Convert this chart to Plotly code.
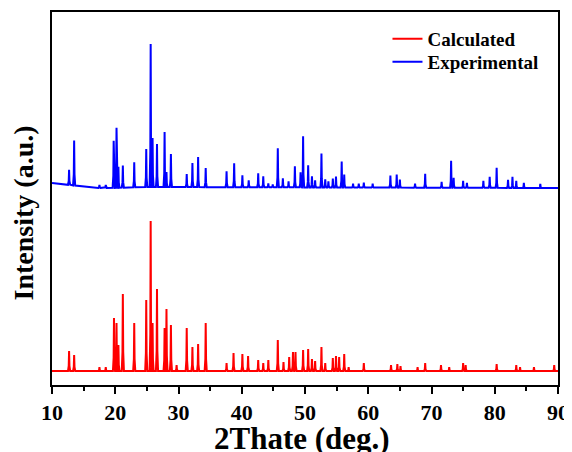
import plotly.graph_objects as go

# ---- data ----
calc_pos = [12.7, 13.5, 17.5, 18.5, 19.8, 20.2, 20.5, 21.2, 23.0, 24.9, 25.6, 25.9, 26.6,
            27.8, 28.1, 28.8, 29.7, 31.3, 32.2, 33.1, 34.3, 37.6, 38.7, 40.1, 41.0, 42.6,
            43.4, 44.2, 45.7, 46.6, 47.5, 48.1, 48.5, 49.7, 50.5, 51.1, 51.6, 52.6, 53.2,
            54.4, 54.9, 55.4, 56.2, 56.9, 59.3, 63.6, 64.6, 65.1, 67.8, 69.0, 71.5, 72.8,
            75.0, 75.4, 80.3, 83.4, 84.0, 86.2, 89.4]
calc_int = [20, 16, 4, 4, 53, 48, 26, 77, 48, 71, 150, 48, 82,
            43, 62, 46, 6, 43, 24, 27, 48, 8, 18, 17, 15, 11,
            8, 11, 31, 9, 14, 19, 19, 21, 22, 12, 10, 24, 8,
            13, 15, 14, 17, 4, 8, 6, 7, 5, 4, 8, 6, 4,
            8, 6, 7, 6, 4, 4, 6]

exp_pos = [12.7, 13.5, 17.5, 18.5, 19.75, 20.2, 20.5, 21.2, 23.0, 24.9, 25.6, 25.9, 26.6,
           27.8, 28.1, 28.8, 31.3, 32.2, 33.1, 34.3, 37.6, 38.8, 40.1, 41.1, 42.6, 43.4,
           44.2, 44.9, 45.7, 46.5, 47.4, 48.4, 49.3, 49.7, 50.5, 51.1, 51.6, 52.6, 53.2,
           53.7, 54.4, 54.9, 55.8, 56.2, 57.6, 58.5, 59.3, 60.7, 63.5, 64.5, 65.0, 67.4,
           69.0, 71.6, 73.1, 73.5, 75.0, 75.6, 78.2, 79.2, 80.3, 82.1, 82.8, 83.4, 84.6,
           87.2]
exp_int = [15, 45, 3, 3, 47, 60, 21, 22, 25, 38, 143, 49, 43,
           55, 15, 33, 13, 24, 30, 19, 16, 24, 12, 7, 14, 11,
           4, 3, 39, 9, 6, 21, 15, 51, 22, 11, 7, 34, 8,
           6, 9, 11, 26, 13, 4, 4, 5, 4, 12, 13, 8, 4,
           14, 6, 27, 10, 7, 5, 7, 11, 20, 8, 11, 7, 5,
           4]

exp_base_x = [10, 13, 16, 19, 25, 90]
exp_base_y = [4, 2, -1, -1, 0, -1]

offset = 184
x_ticks = [10, 20, 30, 40, 50, 60, 70, 80, 90]
x_title = "2Thate (deg.)"
y_title = "Intensity (a.u.)"


def baseline_at(x, bx, by):
    for i in range(len(bx) - 1):
        if bx[i] <= x <= bx[i + 1]:
            t = (x - bx[i]) / (bx[i + 1] - bx[i])
            return by[i] + t * (by[i + 1] - by[i])
    return by[-1]


def trace_xy(pos, inten, shift, bx=None, by=None):
    w = 0.17
    xs, ys = [10.0], []
    base = (lambda x: baseline_at(x, bx, by)) if bx else (lambda x: 0.0)
    ys.append(shift + base(10.0))
    for p, h in zip(pos, inten):
        b = base(p)
        for dx, f in ((-w, 0.0), (-w / 3, 0.25), (0.0, 1.0), (w / 3, 0.25), (w, 0.0)):
            xs.append(p + dx)
            ys.append(shift + b + f * h)
    xs.append(90.0)
    ys.append(shift + base(90.0))
    return xs, ys


cx, cy = trace_xy(calc_pos, calc_int, 0)
ex, ey = trace_xy(exp_pos, exp_int, offset, exp_base_x, exp_base_y)

font_family = "Liberation Serif"
leg_font = dict(family=font_family, size=19, color="black", weight="bold")

fig = go.Figure()
fig.add_trace(go.Scatter(x=cx, y=cy, mode="lines", name="Calculated", legend="legend",
                         line=dict(color="#FF0000", width=2)))
fig.add_trace(go.Scatter(x=ex, y=ey, mode="lines", name="Experimental", legend="legend2",
                         line=dict(color="#0000FF", width=2)))

fig.update_layout(
    width=564, height=444,
    margin=dict(l=44, r=14, t=4, b=67),
    paper_bgcolor="white", plot_bgcolor="white",
    font=dict(family=font_family, color="black"),
    showlegend=True,
    legend=dict(x=0.663, y=0.979, xanchor="left", yanchor="top",
                bgcolor="rgba(0,0,0,0)", borderwidth=0, font=leg_font, itemwidth=30),
    legend2=dict(x=0.663, y=0.917, xanchor="left", yanchor="top",
                 bgcolor="rgba(0,0,0,0)", borderwidth=0, font=leg_font, itemwidth=30),
    xaxis=dict(range=[10, 90], tickvals=x_ticks, ticktext=[str(v) for v in x_ticks],
               ticks="outside", ticklen=7, tickwidth=2, tickcolor="black",
               minor=dict(dtick=5, ticks="outside", ticklen=4, tickwidth=2, tickcolor="black"),
               showline=True, linewidth=2, linecolor="black", mirror=True,
               showgrid=False, zeroline=False, automargin=False,
               tickfont=dict(family=font_family, size=22, color="black", weight="bold")),
    yaxis=dict(range=[-14, 359], showticklabels=False, ticks="",
               showline=True, linewidth=2, linecolor="black", mirror=True,
               showgrid=False, zeroline=False, automargin=False),
    annotations=[
        dict(text=x_title, xref="paper", yref="paper", x=0.495, y=0,
             xanchor="center", yanchor="top", yshift=-34, showarrow=False,
             font=dict(family=font_family, size=31, color="black", weight="bold")),
        dict(text=y_title, xref="paper", yref="paper", x=0, y=0.46, textangle=-90,
             xanchor="center", yanchor="middle", xshift=-29, showarrow=False,
             font=dict(family=font_family, size=28, color="black", weight="bold")),
    ],
)

fig.write_html("out.html")
